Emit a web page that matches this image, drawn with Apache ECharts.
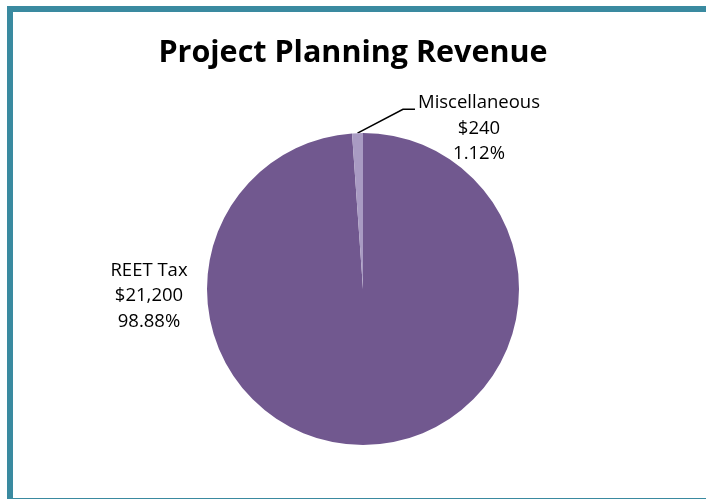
<!DOCTYPE html>
<html>
<head>
<meta charset="utf-8">
<script src="https://cdn.jsdelivr.net/npm/echarts@6/dist/echarts.min.js"></script>
<style>
  html, body { margin: 0; padding: 0; background: #fff; }
  #chart { width: 706px; height: 499px; }
</style>
</head>
<body>
<div id="chart"></div>
<script>
// Revenue sources for project planning
const categories = ['REET Tax', 'Miscellaneous'];
const amounts = [21200, 240];
const sliceColors = ['#71588F', '#A99BC3'];

const fontFamily = '"Open Sans", Lato, sans-serif';

const chart = echarts.init(document.getElementById('chart'), null, { renderer: 'canvas' });

function money(v) {
  return '$' + v.toLocaleString('en-US');
}

chart.setOption({
  backgroundColor: '#fff',
  animation: false,
  title: {
    text: 'Project Planning Revenue',
    left: 'center',
    top: 33,
    textStyle: { fontFamily: fontFamily, fontSize: 30.5, fontWeight: 'bold', color: '#000' }
  },
  graphic: [{
    type: 'rect',
    shape: { x: 10, y: 9, width: 720, height: 492 },
    style: { fill: 'none', stroke: '#3A8AA0', lineWidth: 6 },
    silent: true
  }],
  series: [{
    type: 'pie',
    center: [363, 289],
    radius: 156,
    startAngle: 90,
    clockwise: true,
    data: categories.map((name, i) => ({
      name: name,
      value: amounts[i],
      itemStyle: { color: sliceColors[i] },
      labelLine: { show: i !== 0 }
    })),
    label: {
      show: true,
      position: 'outside',
      formatter: p => p.name + '\n' + money(p.value) + '\n' + p.percent.toFixed(2) + '%',
      fontFamily: fontFamily,
      fontSize: 18.5,
      lineHeight: 25.5,
      color: '#000',
      align: 'center'
    },
    labelLine: {
      show: true,
      length: 20,
      length2: 5,
      lineStyle: { color: '#000', width: 1.6 }
    },
    labelLayout: function (params) {
      if (params.dataIndex === 0) {
        // large slice: label placed beside the pie on the left
        return { x: 149, y: 296, align: 'center', verticalAlign: 'middle' };
      }
      // small slice: label above-right, leader bends into the first text line
      const cx = 479, cy = 128.5;
      const w = params.labelRect.width, h = params.labelRect.height;
      const anchor = params.labelLinePoints ? params.labelLinePoints[0] : null;
      const endX = cx - w / 2 - 3;
      const endY = cy - h / 2 + 19;
      const out = { x: cx, y: cy, align: 'center', verticalAlign: 'middle' };
      if (anchor) {
        out.labelLinePoints = [anchor, [endX - 12, endY], [endX, endY]];
      }
      return out;
    },
    emphasis: { disabled: true }
  }]
});
</script>
</body>
</html>
